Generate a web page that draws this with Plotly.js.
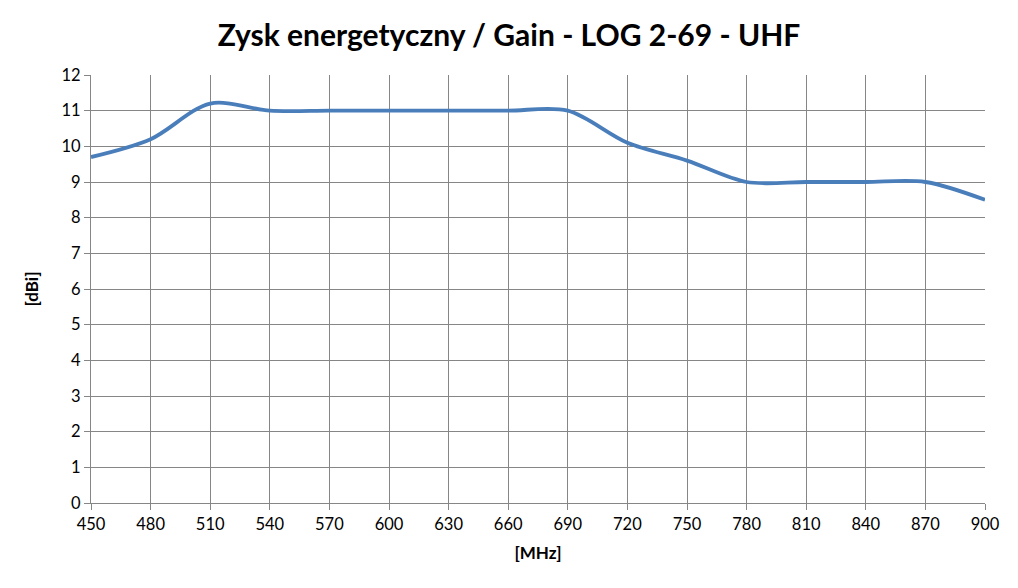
<!DOCTYPE html>
<html>
<head>
<meta charset="utf-8">
<script src="https://cdn.plot.ly/plotly-3.0.1.min.js"></script>
<style>
  html, body { margin: 0; padding: 0; background: #fff; }
  #chart { width: 1018px; height: 588px; }
</style>
</head>
<body>
<div id="chart"></div>
<script>
  // frequency [MHz] and gain [dBi]
  var freq = [450, 480, 510, 540, 570, 600, 630, 660, 690, 720, 750, 780, 810, 840, 870, 900];
  var gain = [9.7, 10.2, 11.2, 11.0, 11.0, 11.0, 11.0, 11.0, 11.0, 10.1, 9.6, 9.0, 9.0, 9.0, 9.0, 8.5];

  var gridCol = '#868686';
  var font = 'Lato, Calibri, "Open Sans", sans-serif';

  var trace = {
    x: freq,
    y: gain,
    type: 'scatter',
    mode: 'lines',
    line: { color: '#4A7EBB', width: 3.8, shape: 'spline', smoothing: 0.9 },
    hoverinfo: 'x+y'
  };

  var layout = {
    width: 1018,
    height: 588,
    margin: { l: 91, r: 33, t: 75, b: 85 },
    paper_bgcolor: '#fff',
    plot_bgcolor: '#fff',
    showlegend: false,
    font: { family: font, size: 16, color: '#000' },
    title: {
      text: '<b>Zysk energetyczny / Gain - LOG 2-69 - UHF</b>',
      font: { family: font, size: 30, color: '#000' },
      x: 0.5, xanchor: 'center',
      y: 0.94, yanchor: 'middle'
    },
    xaxis: {
      range: [450, 900],
      tick0: 450, dtick: 30,
      showgrid: true, gridcolor: gridCol, gridwidth: 1,
      showline: true, linecolor: gridCol, linewidth: 1,
      ticks: 'outside', ticklen: 6, tickcolor: gridCol,
      zeroline: false,
      tickfont: { family: font, size: 16.5 },
      title: { text: '<b>[MHz]</b>', font: { family: font, size: 17 }, standoff: 14 },
      fixedrange: true
    },
    yaxis: {
      range: [0, 12],
      tick0: 0, dtick: 1,
      showgrid: true, gridcolor: gridCol, gridwidth: 1,
      showline: true, linecolor: gridCol, linewidth: 1,
      ticks: 'outside', ticklen: 6, tickcolor: gridCol,
      zeroline: false,
      tickfont: { family: font, size: 16.5 },
      title: { text: '<b>[dBi]</b>', font: { family: font, size: 17 }, standoff: 18 },
      fixedrange: true
    }
  };

  Plotly.newPlot('chart', [trace], layout, { displayModeBar: false, staticPlot: true });
</script>
</body>
</html>
